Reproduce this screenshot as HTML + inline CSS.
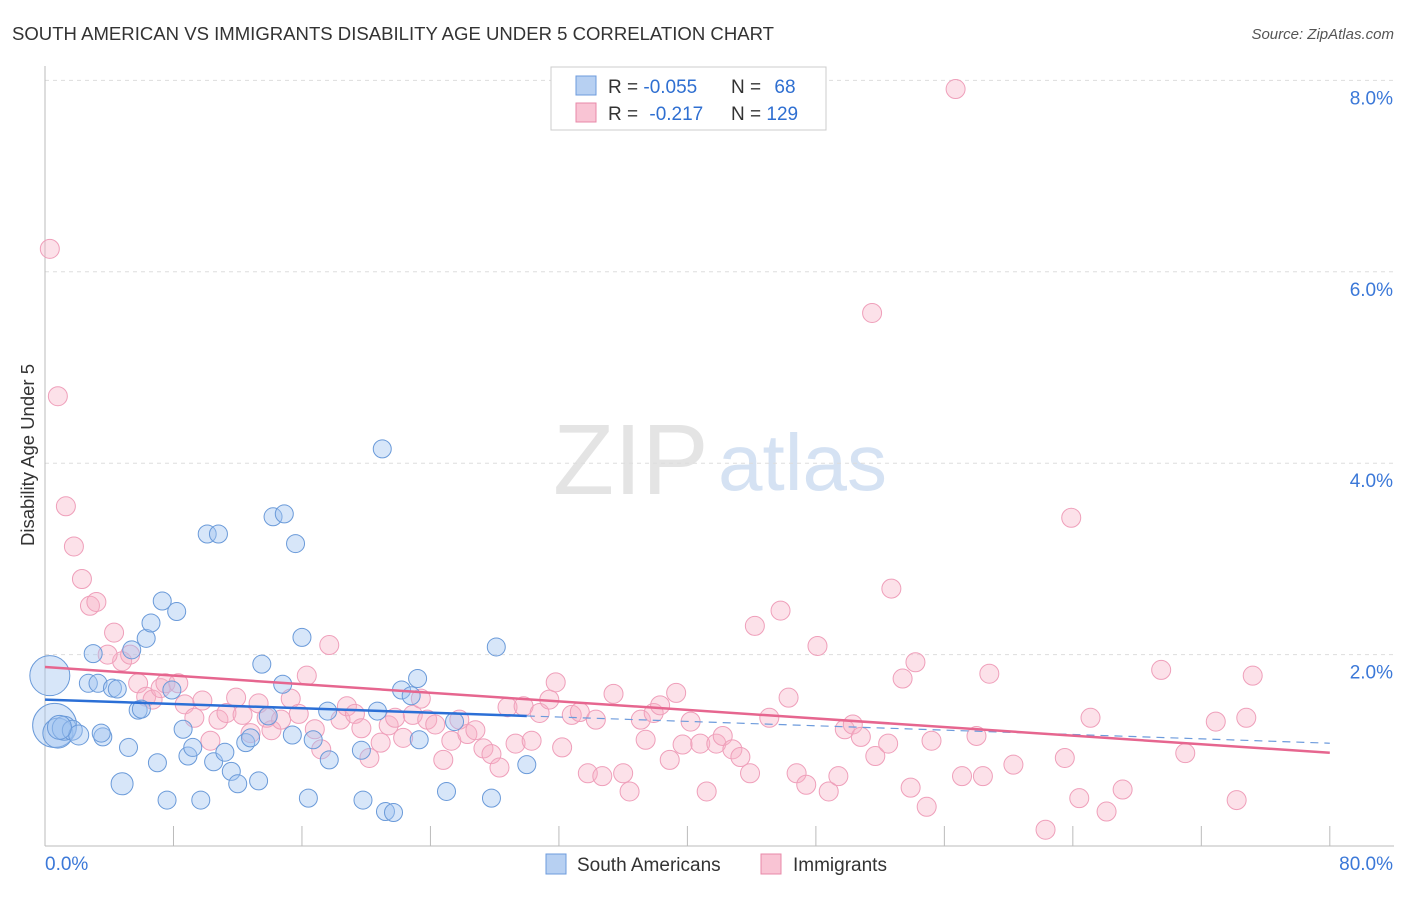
<!DOCTYPE html>
<html><head><meta charset="utf-8"><style>
body{margin:0;background:#fff;font-family:"Liberation Sans",sans-serif}
svg text{font-family:"Liberation Sans",sans-serif}
</style></head><body>
<svg id="c" width="1406" height="892">
<text x="12" y="40" font-size="18" fill="#333" textLength="762" lengthAdjust="spacingAndGlyphs">SOUTH AMERICAN VS IMMIGRANTS DISABILITY AGE UNDER 5 CORRELATION CHART</text>
<text x="1394" y="39" font-size="15" fill="#555" text-anchor="end" font-style="italic">Source: ZipAtlas.com</text>
<text x="0" y="0" transform="translate(34,455) rotate(-90)" font-size="18.5" fill="#333" text-anchor="middle">Disability Age Under 5</text>
<g><text x="553" y="494" font-size="100" fill="#e4e4e4" font-family="Liberation Serif">ZIP</text><text x="718" y="490" font-size="80" fill="#d5e2f3">atlas</text></g>
<g id="grid"></g><g id="axes"></g><g id="pts"></g><g id="trends"></g>
<g>
<rect x="551" y="67" width="275" height="63" fill="#fff" stroke="#ccc"/>
<rect x="576" y="76" width="20" height="19" fill="#b7d0f2" stroke="#6d9bdc"/>
<text x="608" y="93" font-size="19" fill="#333">R = <tspan fill="#2f6fd1">-0.055</tspan></text>
<text x="731" y="93" font-size="19" fill="#333">N = <tspan fill="#2f6fd1" dx="8">68</tspan></text>
<rect x="576" y="103" width="20" height="19" fill="#f9c4d4" stroke="#e889a8"/>
<text x="608" y="120" font-size="19" fill="#333">R = <tspan fill="#2f6fd1" dx="6">-0.217</tspan></text>
<text x="731" y="120" font-size="19" fill="#333">N = <tspan fill="#2f6fd1">129</tspan></text>
</g>
<g>
<rect x="546" y="854" width="20" height="20" fill="#b7d0f2" stroke="#6d9bdc"/>
<text x="577" y="871" font-size="19" fill="#333">South Americans</text>
<rect x="761" y="854" width="20" height="20" fill="#f9c4d4" stroke="#e889a8"/>
<text x="793" y="871" font-size="19" fill="#333">Immigrants</text>
</g>
</svg>
<script>
const blueX=[0.3,0.6,0.8,1.2,1.7,2.1,0.9,2.7,3.0,3.3,3.6,4.2,4.5,3.5,5.2,4.8,5.8,6.0,5.4,6.3,6.6,7.3,8.2,7.9,7.0,7.6,8.6,8.9,9.2,9.7,10.1,10.8,10.5,11.2,11.6,12.0,12.5,12.8,13.3,13.5,13.9,14.2,14.9,14.8,15.4,15.6,16.0,16.4,16.7,17.7,19.7,19.8,20.7,21.0,21.2,21.7,22.2,22.8,23.2,23.3,25.0,25.5,27.8,28.1,30.0,17.6];
const blueY=[1.78,1.26,1.18,1.23,1.21,1.16,1.24,1.70,2.01,1.70,1.14,1.65,1.64,1.18,1.03,0.65,1.42,1.43,2.05,2.17,2.33,2.56,2.45,1.63,0.87,0.48,1.22,0.94,1.03,0.48,3.26,3.26,0.88,0.98,0.78,0.65,1.08,1.13,0.68,1.90,1.36,3.44,3.47,1.69,1.16,3.16,2.18,0.50,1.11,0.90,1.00,0.48,1.41,4.15,0.36,0.35,1.63,1.57,1.75,1.11,0.57,1.30,0.50,2.08,0.85,1.41];
const blueR=[20,22,15,12,10,10,12,9,9,9,9,9,9,9,9,11,9,9,9,9,9,9,9,9,9,9,9,9,9,9,9,9,9,9,9,9,9,9,9,9,9,9,9,9,9,9,9,9,9,9,9,9,9,9,9,9,9,9,9,9,9,9,9,9,9,9];
const pinkX=[0.3,0.8,1.3,1.8,2.3,2.8,3.2,4.3,4.8,3.9,5.3,5.8,6.3,6.7,7.2,7.5,8.3,8.7,9.3,9.8,10.3,10.8,11.3,11.9,12.3,12.8,13.3,13.8,14.1,14.7,15.3,15.8,16.3,16.8,17.2,17.7,18.4,18.8,19.3,19.7,20.2,20.9,21.4,21.8,22.3,22.9,23.4,23.8,24.3,24.8,25.3,25.8,26.3,26.8,27.3,27.8,28.3,28.8,29.3,29.8,30.3,30.8,31.4,31.8,32.2,32.8,33.3,33.8,34.3,34.7,35.4,36.0,36.4,37.1,37.4,37.9,38.3,38.9,39.3,39.7,40.2,40.8,41.2,41.8,42.2,42.8,43.3,43.9,44.2,45.8,45.1,46.3,46.8,47.4,48.1,48.8,49.4,49.8,50.3,50.8,51.5,51.7,52.5,52.7,53.4,53.9,54.2,54.9,55.2,56.7,57.1,58.0,58.4,58.8,60.3,62.3,63.5,63.9,64.4,65.1,66.1,67.1,69.5,71.0,72.9,74.2,74.8,75.2];
const pinkY=[6.24,4.70,3.55,3.13,2.79,2.51,2.55,2.23,1.93,2.00,2.00,1.70,1.56,1.53,1.65,1.70,1.70,1.48,1.34,1.52,1.10,1.32,1.39,1.55,1.37,1.18,1.49,1.34,1.21,1.32,1.54,1.38,1.78,1.22,1.01,2.10,1.32,1.46,1.38,1.23,0.92,1.08,1.26,1.34,1.13,1.37,1.54,1.32,1.27,0.90,1.10,1.32,1.17,1.21,1.02,0.96,0.82,1.45,1.07,1.46,1.10,1.39,1.53,1.71,1.03,1.37,1.40,0.76,1.32,0.73,1.59,0.76,0.57,1.32,1.11,1.39,1.47,0.90,1.60,1.06,1.30,1.07,0.57,1.07,1.15,1.01,0.93,0.76,2.30,2.46,1.34,1.55,0.76,0.64,2.09,0.57,0.73,1.22,1.27,1.14,5.57,0.94,1.07,2.69,1.75,0.61,1.92,0.41,1.10,7.91,0.73,1.15,0.73,1.80,0.85,0.17,0.92,3.43,0.50,1.34,0.36,0.59,1.84,0.97,1.30,0.48,1.34,1.78];
const yTicks=[2,4,6,8];
const yTickLabels=["2.0%","4.0%","6.0%","8.0%"];
const xTicks=[0,8,16,24,32,40,48,56,64,72,80];
const blueTrend=[1.53,-0.0057]; // intercept, slope
const pinkTrend=[1.87,-0.0112];
const xs=v=>45+v*16.06, ys=v=>846-v*95.7;
const NS="http://www.w3.org/2000/svg";
function mk(p,t,a){const e=document.createElementNS(NS,t);for(const k in a)e.setAttribute(k,a[k]);p.appendChild(e);return e;}
const grid=document.getElementById('grid'),axes=document.getElementById('axes'),pts=document.getElementById('pts'),tr=document.getElementById('trends');
yTicks.forEach((v,i)=>{
 const l=mk(grid,'line',{x1:45,x2:1394,y1:ys(v),y2:ys(v),stroke:'#ddd','stroke-dasharray':'4,4'});
 
 
 const t=mk(axes,'text',{x:1393,y:ys(v)+24,'font-size':19,fill:'#3b78d8','text-anchor':'end'});t.textContent=yTickLabels[i];
 
 
});
const ax=mk(axes,'line',{x1:45,x2:1394,y1:846,y2:846,stroke:'#bbb'});


const ay=mk(axes,'line',{x1:45,x2:45,y1:66,y2:846,stroke:'#bbb'});


xTicks.forEach(v=>{const l=mk(axes,'line',{x1:xs(v),x2:xs(v),y1:826,y2:846,stroke:'#bbb'});
 
 });
const x0=mk(axes,'text',{x:45,y:870,'font-size':19,fill:'#3b78d8'});x0.textContent='0.0%';


const x1=mk(axes,'text',{x:1393,y:870,'font-size':19,fill:'#3b78d8','text-anchor':'end'});x1.textContent='80.0%';


pinkX.forEach((v,i)=>{const c=mk(pts,'circle',{cx:xs(v),cy:ys(pinkY[i]),r:9.5,fill:'rgba(246,175,198,0.38)',stroke:'#ef9fba','stroke-width':1});
 
 });
blueX.forEach((v,i)=>{const c=mk(pts,'circle',{cx:xs(v),cy:ys(blueY[i]),r:blueR[i],fill:'rgba(160,196,240,0.42)',stroke:'#6a9ad9','stroke-width':1});
 
 });
const bl=mk(tr,'line',{x1:xs(0),x2:xs(30),y1:ys(blueTrend[0]),y2:ys(blueTrend[0]+blueTrend[1]*30),stroke:'#2b6fd6','stroke-width':2.5});


const bd=mk(tr,'line',{x1:xs(30),x2:xs(80),y1:ys(blueTrend[0]+blueTrend[1]*30),y2:ys(blueTrend[0]+blueTrend[1]*80),stroke:'#6d9bdc','stroke-width':1.2,'stroke-dasharray':'8,6'});


const pl=mk(tr,'line',{x1:xs(0),x2:xs(80),y1:ys(pinkTrend[0]),y2:ys(pinkTrend[0]+pinkTrend[1]*80),stroke:'#e6668f','stroke-width':2.5});


</script>
</body></html>
